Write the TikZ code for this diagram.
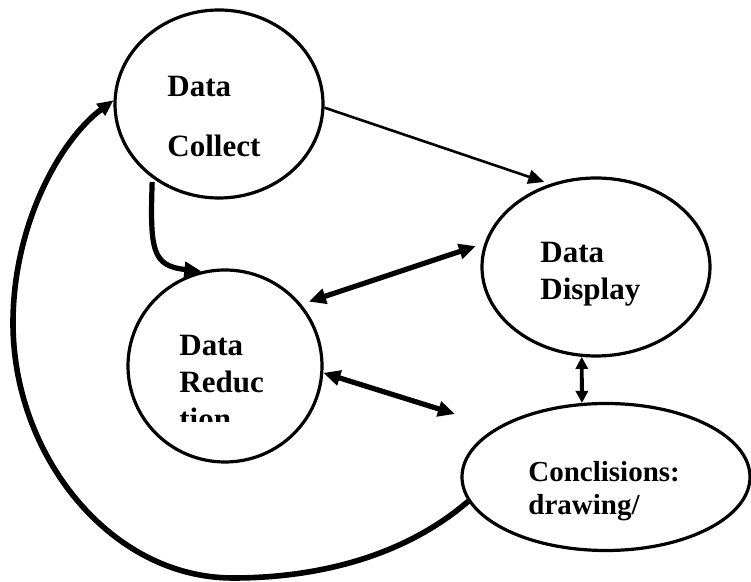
\documentclass[tikz,border=0pt]{standalone}
\usepackage{fontspec}
\setmainfont{Liberation Serif}
\usepackage{tikz}
\usetikzlibrary{arrows.meta,shapes.geometric,positioning}
\tikzset{
  stage/.style={draw, ellipse, line width=1.6pt, inner sep=0pt, fill=white},
  lbl/.style={anchor=base west, inner sep=0pt, font=\fontsize{15.5}{18}\selectfont\bfseries},
  fl/.style={-{Triangle[length=8pt,width=7pt]}, line width=1.3pt},
  thk/.style={{Triangle[length=8.5pt,width=7.5pt]}-{Triangle[length=8.5pt,width=7.5pt]}, line width=2.6pt},
}

\begin{document}
\begin{tikzpicture}[x=0.5pt, y=-0.5pt]
  \useasboundingbox (0,0) rectangle (751,582);
  % the four stages
  \node[stage, minimum width=104pt, minimum height=94pt] (collect) at (219,104) {};
  \node[stage, minimum width=97pt, minimum height=96pt] (reduce) at (225,366) {};
  \node[stage, minimum width=114pt, minimum height=89pt] (display) at (596,267) {};
  \node[stage, minimum width=144pt, minimum height=73.5pt] (concl) at (606,477) {};
  % texts
  \node[lbl] (c1) at (167,97) {Data};
  \node[lbl] (c2) at (167,157) {Collect};
  \node[lbl] (r1) at (179,356) {Data};
  \node[lbl] (r2) at (179,393) {Reduc};
  \begin{scope}
    \clip (150,380) rectangle (300,422);
    \node[lbl] (r3) at (179,430) {tion};
  \end{scope}
  \node[lbl] (d1) at (540,263) {Data};
  \node[lbl] (d2) at (540,300) {Display};
  \node[lbl, font=\fontsize{14.5}{17}\selectfont\bfseries] (k1) at (528,482) {Conclisions:};
  \node[lbl, font=\fontsize{14.5}{17}\selectfont\bfseries] (k2) at (528,515) {drawing/};
  % connectors
  \coordinate (free) at (455,414);
  \draw[fl, shorten >=3pt] (collect.-2) -- (display.119);
  \draw[-{Triangle[length=8.5pt,width=7.5pt]}, line width=2.6pt, shorten <=2pt]
     (collect.228) .. controls (150,250) and (152,266) .. (reduce.104);
  \draw[thk, shorten <=4pt, shorten >=4.5pt] (reduce.39) -- (display.168);
  \draw[thk] (reduce.-4) -- (free);
  \draw[{Triangle[length=6pt,width=6pt]}-{Triangle[length=6pt,width=6pt]}, line width=1.9pt]
     (display.-99) -- (concl.108);
  \draw[-{Triangle[length=8pt,width=7pt]}, line width=2.8pt]
     (concl.190.6) .. controls (400,560) and (310,578) .. (233,578)
     .. controls (110,578) and (13,455) .. (13,323)
     .. controls (13,225) and (60,140) .. (collect.178);
\end{tikzpicture}
\end{document}
